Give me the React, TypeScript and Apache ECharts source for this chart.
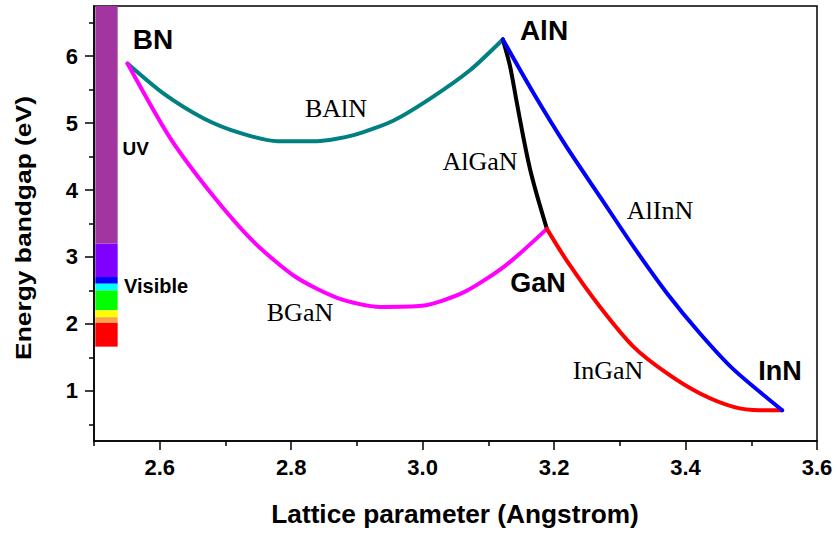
import React, { useEffect, useRef } from "react";
import * as echarts from "echarts";

// ---- data ----
const xMajor = [2.6, 2.8, 3.0, 3.2, 3.4, 3.6];
const xMinor = [2.5, 2.7, 2.9, 3.1, 3.3, 3.5];
const yMajor = [1, 2, 3, 4, 5, 6];
const yMinor = [0.5, 1.5, 2.5, 3.5, 4.5, 5.5, 6.5];

const bAlN: [number, number][] = [
  [2.551, 5.89], [2.606, 5.44], [2.667, 5.07], [2.723, 4.85], [2.779, 4.73],
  [2.839, 4.73], [2.895, 4.82], [2.956, 5.04], [3.012, 5.37], [3.072, 5.79], [3.122, 6.25],
];
const bGaN: [number, number][] = [
  [2.551, 5.89], [2.615, 4.79], [2.679, 3.94], [2.743, 3.225], [2.807, 2.70],
  [2.871, 2.386], [2.935, 2.253], [2.999, 2.27], [3.063, 2.474], [3.127, 2.879], [3.189, 3.42],
];
const alGaN: [number, number][] = [
  [3.122, 6.25], [3.133, 5.85], [3.143, 5.32], [3.153, 4.80], [3.163, 4.33], [3.174, 3.92], [3.189, 3.42],
];
const alInN: [number, number][] = [
  [3.122, 6.25], [3.169, 5.443], [3.219, 4.645], [3.270, 3.898], [3.321, 3.151],
  [3.372, 2.455], [3.422, 1.857], [3.473, 1.32], [3.547, 0.71],
];
const inGaN: [number, number][] = [
  [3.189, 3.42], [3.219, 2.95], [3.270, 2.253], [3.321, 1.657], [3.372, 1.259],
  [3.422, 0.96], [3.473, 0.76], [3.513, 0.71], [3.547, 0.71],
];

// spectrum bar: [x0, x1, yBottom, yTop]
const bandRanges: [number, number, number, number][] = [
  [2.502, 2.536, 3.2, 6.75],
  [2.502, 2.536, 2.7, 3.2],
  [2.502, 2.536, 2.6, 2.7],
  [2.502, 2.536, 2.5, 2.6],
  [2.502, 2.536, 2.205, 2.5],
  [2.502, 2.536, 2.1, 2.2],
  [2.502, 2.536, 2.015, 2.1],
  [2.502, 2.536, 1.66, 2.015],
];
const bandColors = ["#a235a0", "#8000ff", "#0000ff", "#00ffff", "#00ff00", "#ffff00", "#f9a54a", "#ff0000"];

const SANS = "Liberation Sans, Arial, sans-serif";
const SERIF = "Liberation Serif, Times New Roman, serif";

function txt(text: string, x: number, y: number, font: string, align: string = "center", extra: any = {}) {
  return {
    type: "text",
    x,
    y,
    z: 100,
    ...extra,
    style: {
      text,
      font,
      fill: "#000",
      textAlign: align,
      align: align,
      textVerticalAlign: "middle",
      verticalAlign: "middle",
    },
  };
}

export default function App() {
  const ref = useRef<HTMLDivElement>(null);
  useEffect(() => {
    if (!ref.current) return;
    const chart = echarts.init(ref.current, null, { renderer: "svg" });
    const lineSeries = (name: string, data: [number, number][], color: string, z: number) => ({
      name,
      type: "line",
      data,
      symbol: "none",
      smooth: 0.25,
      z,
      lineStyle: { color, width: 4, cap: "round", join: "round" },
    });
    const axisText = { color: "#000", fontWeight: "bold", fontFamily: SANS, fontSize: 22 };
    chart.setOption({
      animation: false,
      backgroundColor: "#fff",
      grid: { left: 94, right: 20, top: 6, bottom: 92, show: true, borderColor: "#000", borderWidth: 1.5, backgroundColor: "transparent" },
      xAxis: [
        {
          type: "value",
          min: 2.5,
          max: 3.6,
          position: "bottom",
          splitLine: { show: false },
          axisLine: { show: true, lineStyle: { color: "#000", width: 1.5 } },
          axisTick: { show: true, length: 9, customValues: xMajor, lineStyle: { color: "#000", width: 1.5 } },
          axisLabel: { ...axisText, margin: 15, customValues: xMajor, formatter: (v: number) => v.toFixed(1) },
        },
        {
          type: "value",
          min: 2.5,
          max: 3.6,
          position: "bottom",
          splitLine: { show: false },
          axisLine: { show: false },
          axisTick: { show: true, length: 5, customValues: xMinor, lineStyle: { color: "#000", width: 1.5 } },
          axisLabel: { show: false },
        },
      ],
      yAxis: [
        {
          type: "value",
          min: 0.25,
          max: 6.75,
          position: "left",
          splitLine: { show: false },
          axisLine: { show: true, lineStyle: { color: "#000", width: 1.5 } },
          axisTick: { show: true, length: 9, customValues: yMajor, lineStyle: { color: "#000", width: 1.5 } },
          axisLabel: { ...axisText, margin: 16, customValues: yMajor, formatter: (v: number) => String(v) },
        },
        {
          type: "value",
          min: 0.25,
          max: 6.75,
          position: "left",
          splitLine: { show: false },
          axisLine: { show: false },
          axisTick: { show: true, length: 5, customValues: yMinor, lineStyle: { color: "#000", width: 1.5 } },
          axisLabel: { show: false },
        },
      ],
      series: [
        {
          type: "custom",
          name: "spectrum",
          data: bandRanges,
          encode: { x: [0, 1], y: [2, 3] },
          z: 1,
          renderItem: (params: any, api: any) => {
            const p0 = api.coord([api.value(0), api.value(3)]);
            const p1 = api.coord([api.value(1), api.value(2)]);
            return {
              type: "rect",
              shape: { x: p0[0], y: p0[1], width: p1[0] - p0[0], height: p1[1] - p0[1] },
              style: { fill: bandColors[params.dataIndex] },
            };
          },
        },
        lineSeries("BAlN", bAlN, "#008080", 2),
        lineSeries("AlGaN", alGaN, "#000000", 3),
        lineSeries("BGaN", bGaN, "#ff00ff", 4),
        lineSeries("InGaN", inGaN, "#ff0000", 5),
        lineSeries("AlInN", alInN, "#0000ff", 6),
      ],
      graphic: [
        txt("Energy bandgap (eV)", 23.5, 228, `bold 22px ${SANS}`, "center", { rotation: Math.PI / 2, scaleX: 1.2 }),
        txt("Lattice parameter (Angstrom)", 455, 514, `bold 25px ${SANS}`, "center", { scaleX: 1.05 }),
        txt("BN", 153, 39, `bold 28px ${SANS}`),
        txt("AlN", 544, 30, `bold 28px ${SANS}`),
        txt("GaN", 538, 283, `bold 27px ${SANS}`),
        txt("InN", 780, 371, `bold 27px ${SANS}`),
        txt("UV", 122.5, 148, `bold 19px ${SANS}`, "left"),
        txt("Visible", 124, 286, `bold 20px ${SANS}`, "left"),
        txt("BAlN", 336, 108, `26px ${SERIF}`),
        txt("AlGaN", 480, 161, `26px ${SERIF}`),
        txt("AlInN", 660, 210, `26px ${SERIF}`),
        txt("BGaN", 300, 312, `26px ${SERIF}`),
        txt("InGaN", 608, 370, `26px ${SERIF}`),
      ],
    });
    return () => chart.dispose();
  }, []);
  return (
    <div
      ref={ref}
      style={{ position: "fixed", left: 0, top: 0, width: 837, height: 533, background: "#fff" }}
    />
  );
}
